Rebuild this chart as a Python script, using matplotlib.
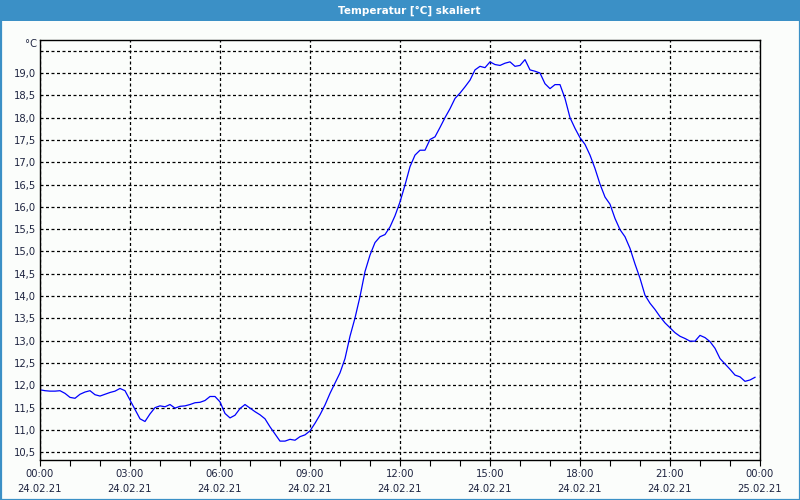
import matplotlib
matplotlib.use("Agg")
import matplotlib.pyplot as plt
import matplotlib.dates as mdates
from matplotlib.patches import Rectangle
import pandas as pd
import numpy as np

title = "Temperatur [°C] skaliert"
unit_label = "°C"
start_time = "2021-02-24 00:00"
end_time = "2021-02-25 00:00"
sample_minutes = 10

temperature = [
    11.90, 11.88, 11.87, 11.87, 11.88, 11.82,  # 00:00
    11.73, 11.71, 11.80, 11.85, 11.88, 11.79,  # 01:00
    11.76, 11.80, 11.84, 11.87, 11.93, 11.88,  # 02:00
    11.67, 11.46, 11.25, 11.19, 11.36, 11.50,  # 03:00
    11.54, 11.52, 11.57, 11.49, 11.53, 11.54,  # 04:00
    11.57, 11.61, 11.62, 11.66, 11.75, 11.75,  # 05:00
    11.63, 11.37, 11.27, 11.33, 11.48, 11.57,  # 06:00
    11.49, 11.41, 11.34, 11.25, 11.07, 10.91,  # 07:00
    10.75, 10.75, 10.79, 10.77, 10.85, 10.89,  # 08:00
    10.98, 11.15, 11.34, 11.56, 11.82, 12.05,  # 09:00
    12.28, 12.60, 13.10, 13.51, 13.99, 14.55,  # 10:00
    14.92, 15.20, 15.33, 15.38, 15.55, 15.80,  # 11:00
    16.11, 16.49, 16.90, 17.16, 17.27, 17.27,  # 12:00
    17.51, 17.57, 17.78, 18.00, 18.20, 18.43,  # 13:00
    18.55, 18.69, 18.84, 19.07, 19.15, 19.12,  # 14:00
    19.25, 19.19, 19.17, 19.22, 19.25, 19.15,  # 15:00
    19.17, 19.30, 19.07, 19.04, 19.00, 18.76,  # 16:00
    18.65, 18.74, 18.74, 18.43, 18.00, 17.76,  # 17:00
    17.55, 17.40, 17.16, 16.86, 16.51, 16.22,  # 18:00
    16.06, 15.74, 15.49, 15.33, 15.07, 14.72,  # 19:00
    14.40, 14.02, 13.84, 13.70, 13.54, 13.40,  # 20:00
    13.29, 13.18, 13.10, 13.05, 12.99, 12.99,  # 21:00
    13.12, 13.07, 12.98, 12.83, 12.60, 12.48,  # 22:00
    12.36, 12.23, 12.19, 12.09, 12.12, 12.18,  # 23:00
]

y_ticks = [10.5, 11.0, 11.5, 12.0, 12.5, 13.0, 13.5, 14.0, 14.5, 15.0,
           15.5, 16.0, 16.5, 17.0, 17.5, 18.0, 18.5, 19.0, 19.5]
y_limits = (10.32, 19.74)

times = pd.date_range(start_time, periods=len(temperature), freq=f"{sample_minutes}min")

plt.rcParams['font.family'] = ['DejaVu Sans']
bg = '#fbfdfb'
bar_blue = '#3b90c6'
label_col = '#1e2440'

fig = plt.figure(figsize=(8, 5), dpi=100, facecolor=bg)
ax = fig.add_axes([40 / 800, 39.7 / 500, 720 / 800, 420.3 / 500])
ax.set_facecolor(bg)

ax.plot(times, temperature, color='#0000ff', lw=0.9)

ax.set_xlim(pd.Timestamp(start_time), pd.Timestamp(end_time))
ax.set_ylim(*y_limits)

ax.xaxis.set_major_locator(mdates.HourLocator(byhour=range(0, 24, 3)))
ax.xaxis.set_minor_locator(mdates.HourLocator())
ax.xaxis.set_major_formatter(mdates.DateFormatter('%H:%M\n%d.%m.%y'))

ax.set_yticks(y_ticks)
ax.set_yticklabels([f"{v:.1f}".replace('.', ',') if v < 19.4 else '' for v in y_ticks])

ax.tick_params(axis='y', length=0, pad=3, labelsize=7.2, labelcolor=label_col)
ax.tick_params(axis='x', which='both', direction='out', length=4.5, width=0.8,
               pad=2, labelsize=7.2, labelcolor=label_col, color='black')
for lab in ax.get_xticklabels():
    lab.set_linespacing(1.6)

ax.grid(True, which='major', color='black', linestyle=(0, (2.4, 2.0)), linewidth=0.9)
for s in ax.spines.values():
    s.set_color('black')
    s.set_linewidth(1.0)

fig.text(37 / 800, 1 - 44 / 500, unit_label, ha='right', va='center',
         fontsize=7.2, color=label_col)

# title bar and frame
fig.patches.append(Rectangle((0, 1 - 21 / 500), 1, 21 / 500, transform=fig.transFigure,
                             facecolor=bar_blue, edgecolor='none', zorder=0))
fig.patches.append(Rectangle((0.5 / 800, 0.5 / 500), 799 / 800, 499 / 500, transform=fig.transFigure,
                             facecolor='none', edgecolor=bar_blue, linewidth=1.6, zorder=1))
fig.text(409 / 800, 1 - 10.5 / 500, title, ha='center', va='center',
         fontsize=7.5, fontweight='bold', color='white')

fig.savefig('out.png', dpi=100, facecolor=bg)
